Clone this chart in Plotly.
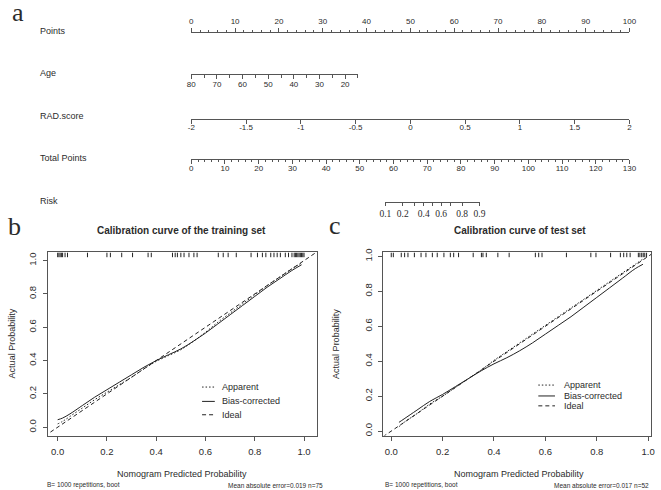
import math
import plotly.graph_objects as go

W, H = 661, 490

# ---------------- Panel a: nomogram scales ----------------
points_range = [0, 100]
age_range = [80, 15]
rad_ticks = [-2, -1.5, -1, -0.5, 0, 0.5, 1, 1.5, 2]
rad_labels = ["-2", "-1.5", "-1", "-0.5", "0", "0.5", "1", "1.5", "2"]
total_range = [0, 130]
risk_ticks = [0.1, 0.2, 0.4, 0.6, 0.8, 0.9]
risk_labels = ["0.1", "0.2", "0.4", "0.6", "0.8", "0.9"]
risk_minor = [0.3, 0.5, 0.7]
row_labels = ["Points", "Age", "RAD.score", "Total Points", "Risk"]

# ---------------- Panel b: training-set calibration ----------------
train_x = [0.00, 0.02, 0.05, 0.10, 0.15, 0.20, 0.25, 0.30, 0.35, 0.40, 0.45,
           0.50, 0.55, 0.60, 0.65, 0.70, 0.75, 0.80, 0.85, 0.90, 0.95, 0.99]
train_apparent = [0.020, 0.035, 0.065, 0.115, 0.165, 0.210, 0.255, 0.300, 0.350, 0.395, 0.430,
                  0.465, 0.515, 0.570, 0.630, 0.685, 0.740, 0.795, 0.850, 0.900, 0.950, 0.985]
train_bias = [0.045, 0.055, 0.080, 0.130, 0.180, 0.225, 0.270, 0.315, 0.360, 0.400, 0.435,
              0.470, 0.515, 0.565, 0.620, 0.675, 0.730, 0.785, 0.840, 0.890, 0.940, 0.975]
train_rug = [0.000, 0.005, 0.010, 0.015, 0.020, 0.030, 0.040, 0.121, 0.200, 0.214, 0.260,
             0.304, 0.367, 0.380, 0.466, 0.477, 0.486, 0.500, 0.513, 0.533, 0.553, 0.566,
             0.652, 0.672, 0.692, 0.725, 0.785, 0.811, 0.831, 0.845, 0.865, 0.878, 0.891,
             0.904, 0.924, 0.937, 0.951, 0.960, 0.965, 0.970, 0.975, 0.980, 0.985, 0.990,
             0.995, 1.000]
train_note_left = "B= 1000 repetitions, boot"
train_note_right = "Mean absolute error=0.019 n=75"

# ---------------- Panel c: test-set calibration ----------------
test_x = [0.03, 0.05, 0.10, 0.15, 0.20, 0.25, 0.30, 0.35, 0.40, 0.45, 0.50,
          0.55, 0.60, 0.65, 0.70, 0.75, 0.80, 0.85, 0.90, 0.95, 0.98]
test_apparent = [0.025, 0.050, 0.100, 0.155, 0.200, 0.250, 0.300, 0.350, 0.405, 0.455, 0.505,
                 0.555, 0.605, 0.655, 0.705, 0.755, 0.805, 0.855, 0.905, 0.955, 0.985]
test_bias = [0.050, 0.070, 0.120, 0.170, 0.210, 0.255, 0.300, 0.345, 0.385, 0.420, 0.460,
             0.505, 0.555, 0.605, 0.655, 0.710, 0.765, 0.820, 0.875, 0.930, 0.955]
test_rug = [0.000, 0.008, 0.039, 0.052, 0.065, 0.090, 0.116, 0.135, 0.160, 0.179, 0.205,
            0.230, 0.243, 0.262, 0.319, 0.351, 0.357, 0.370, 0.415, 0.459, 0.561, 0.574,
            0.587, 0.682, 0.777, 0.797, 0.854, 0.892, 0.905, 0.917, 0.930, 0.962, 0.968,
            0.975, 0.981, 0.987, 0.994]
test_note_left = "B= 1000 repetitions, boot"
test_note_right = "Mean absolute error=0.017 n=52"

ideal_line = [-0.1, 1.1]
legend_labels = ["Apparent", "Bias-corrected", "Ideal"]

# ---------------- helpers & styles ----------------
def X(px):
    return px / W

def Y(py):
    return 1 - py / H

def logit(p):
    return math.log(p / (1 - p))

SANS = "Liberation Sans, Arial, sans-serif"
SERIF = "Liberation Serif, Times New Roman, serif"
INK = "#2b2b2b"
AX = "#555555"
LINE = "#222222"
DOT = "1.5px,2px"
DASH = "4px,3px"
legend_dashes = [DOT, "solid", DASH]

base_ax = dict(showline=True, linecolor=AX, linewidth=1, ticks="outside", tickcolor=AX,
               tickwidth=1, showgrid=False, zeroline=False, fixedrange=True)
nomo_font = dict(family=SANS, size=8, color=INK)
cal_font = dict(family=SANS, size=9.5, color=INK)

fig = go.Figure()

# invisible carriers for the nomogram axes
nomo_axes = [("x", points_range), ("x2", age_range), ("x3", [rad_ticks[0], rad_ticks[-1]]),
             ("x4", total_range), ("x5", [logit(risk_ticks[0]), logit(risk_ticks[-1])])]
for ax_id, rng in nomo_axes:
    fig.add_trace(go.Scatter(x=rng, y=[0.5, 0.5], xaxis=ax_id, yaxis="y", mode="lines",
                             line=dict(width=0, color="rgba(0,0,0,0)"),
                             hoverinfo="skip", showlegend=False))

# calibration curves
def add_cal(xa, ya, ry, xs, app, bias, rug):
    rx, rys = [], []
    for v in rug:
        rx += [v, v, None]
        rys += [0, 1, None]
    fig.add_trace(go.Scatter(x=rx, y=rys, xaxis=xa, yaxis=ry, mode="lines",
                             line=dict(color=LINE, width=1), hoverinfo="skip", showlegend=False))
    fig.add_trace(go.Scatter(x=ideal_line, y=ideal_line, xaxis=xa, yaxis=ya, mode="lines",
                             name="Ideal", line=dict(color=LINE, width=1, dash=DASH),
                             showlegend=False))
    fig.add_trace(go.Scatter(x=xs, y=app, xaxis=xa, yaxis=ya, mode="lines", name="Apparent",
                             line=dict(color=LINE, width=1, dash=DOT, shape="spline"),
                             showlegend=False))
    fig.add_trace(go.Scatter(x=xs, y=bias, xaxis=xa, yaxis=ya, mode="lines", name="Bias-corrected",
                             line=dict(color=LINE, width=1, shape="spline"), showlegend=False))

add_cal("x6", "y6", "y8", train_x, train_apparent, train_bias, train_rug)
add_cal("x7", "y7", "y9", test_x, test_apparent, test_bias, test_rug)

layout = dict(
    width=W, height=H, margin=dict(l=0, r=0, t=0, b=0),
    paper_bgcolor="white", plot_bgcolor="rgba(0,0,0,0)", showlegend=False,
    font=dict(family=SANS, color=INK),
)

layout["yaxis"] = dict(domain=[Y(215), 1], range=[0, 1], visible=False, anchor="free",
                       position=0, fixedrange=True)
layout["xaxis"] = dict(base_ax, domain=[X(189), X(636)], range=points_range, anchor="free",
                       position=Y(28), side="top", tickmode="linear", tick0=0, dtick=10,
                       ticklen=4, tickfont=nomo_font, ticklabelstandoff=1,
                       minor=dict(ticks="outside", ticklen=2, tickcolor=AX, tickmode="linear",
                                  tick0=0, dtick=2))
layout["xaxis2"] = dict(base_ax, domain=[X(189), X(359)], range=age_range, anchor="free",
                        position=Y(71), side="bottom", tickmode="linear", tick0=0, dtick=10,
                        ticklen=4, tickfont=nomo_font, ticklabelstandoff=-2,
                        minor=dict(ticks="outside", ticklen=3, tickcolor=AX, tickmode="linear",
                                   tick0=0, dtick=5))
layout["xaxis3"] = dict(base_ax, domain=[X(189), X(636)], range=[rad_ticks[0], rad_ticks[-1]],
                        anchor="free", position=Y(116), side="bottom", tickmode="array",
                        tickvals=rad_ticks, ticktext=rad_labels, ticklen=4, tickfont=nomo_font,
                        ticklabelstandoff=-3)
layout["xaxis4"] = dict(base_ax, domain=[X(189), X(636)], range=total_range, anchor="free",
                        position=Y(157), side="bottom", tickmode="linear", tick0=0, dtick=10,
                        ticklen=4, tickfont=nomo_font, ticklabelstandoff=-3,
                        minor=dict(ticks="outside", ticklen=2, tickcolor=AX, tickmode="linear",
                                   tick0=0, dtick=2))
layout["xaxis5"] = dict(base_ax, domain=[X(387), X(483)],
                        range=[logit(risk_ticks[0]), logit(risk_ticks[-1])], anchor="free",
                        position=Y(200), side="bottom", tickmode="array",
                        tickvals=[logit(p) for p in risk_ticks], ticktext=risk_labels,
                        ticklen=3, tickfont=dict(family=SERIF, size=9.5, color=INK),
                        ticklabelstandoff=0,
                        minor=dict(ticks="outside", ticklen=3, tickcolor=AX,
                                   tickmode="array", tickvals=[logit(p) for p in risk_minor]))

cal_common = dict(base_ax, mirror=True, tickmode="linear", tick0=0, dtick=0.2, tickformat=".1f",
                  ticklen=4, tickfont=cal_font, ticklabelstandoff=3)
layout["xaxis6"] = dict(cal_common, domain=[X(43), X(317)], range=[-0.0386, 1.0517], anchor="y6")
layout["yaxis6"] = dict(cal_common, domain=[Y(436), Y(251)], range=[-0.05, 1.049], anchor="x6",
                        tickangle=-90)
layout["yaxis8"] = dict(domain=[Y(256), Y(251)], range=[0, 1], visible=False, anchor="x6",
                        fixedrange=True)
layout["xaxis7"] = dict(cal_common, domain=[X(385), X(658)], range=[-0.0305, 1.0115], anchor="y7")
layout["yaxis7"] = dict(cal_common, domain=[Y(436), Y(251)], range=[-0.0255, 1.0227], anchor="x7",
                        tickangle=-90)
layout["yaxis9"] = dict(domain=[Y(256), Y(251)], range=[0, 1], visible=False, anchor="x7",
                        fixedrange=True)

ann = []
def text(x, y, s, size, xanchor="center", family=SANS, bold=False, angle=0, yanchor="middle",
         **extra):
    ann.append(dict(x=X(x), y=Y(y), xref="paper", yref="paper", text=(f"<b>{s}</b>" if bold else s),
                    showarrow=False, xanchor=xanchor, yanchor=yanchor, textangle=angle,
                    font=dict(family=family, size=size, color=INK), **extra))

# nomogram row labels
for lab, yy in zip(row_labels, [27, 70, 113, 156, 199]):
    text(33, yy, lab, 9, xanchor="left")

# panel letters ("a" sits in a short box whose empty ascender space is trimmed)
text(4, 0, "a", 26, xanchor="left", family=SERIF, yanchor="top", height=21, valign="bottom")
text(0, 225, "b", 26, xanchor="left", family=SERIF)
text(327, 224, "c", 26, xanchor="left", family=SERIF)

# titles
text(179, 229, "Calibration curve of the training set", 10, bold=True)
text(524, 229, "Calibration curve of test set", 10, bold=True)

# axis titles
text(180, 475, "Nomogram Predicted Probability", 9)
text(523, 475, "Nomogram Predicted Probability", 9)
text(6, 343, "Actual Probability", 9, angle=-90)
text(336, 343, "Actual Probability", 9, angle=-90)

# footers
text(40, 486, train_note_left, 6.5, xanchor="left")
text(325, 486, train_note_right, 6.5, xanchor="right")
text(385, 486, test_note_left, 6.5, xanchor="left")
text(658, 486, test_note_right, 6.5, xanchor="right")

# legends (text + key lines)
shapes = []
def legend(x0, x1, xt, ys):
    for lab, dash, yy in zip(legend_labels, legend_dashes, ys):
        shapes.append(dict(type="line", xref="paper", yref="paper", x0=X(x0), x1=X(x1),
                           y0=Y(yy), y1=Y(yy), line=dict(color=LINE, width=1, dash=dash)))
        text(xt, yy, lab, 9, xanchor="left")

legend(200, 213, 218, [387, 401.5, 415])
legend(543, 560, 567, [385, 396, 406])

layout["annotations"] = ann
layout["shapes"] = shapes
fig.update_layout(**layout)

fig.write_html("out.html", config={"displayModeBar": False},
               post_script="document.body.style.margin='0px';document.body.style.overflow='hidden';")
